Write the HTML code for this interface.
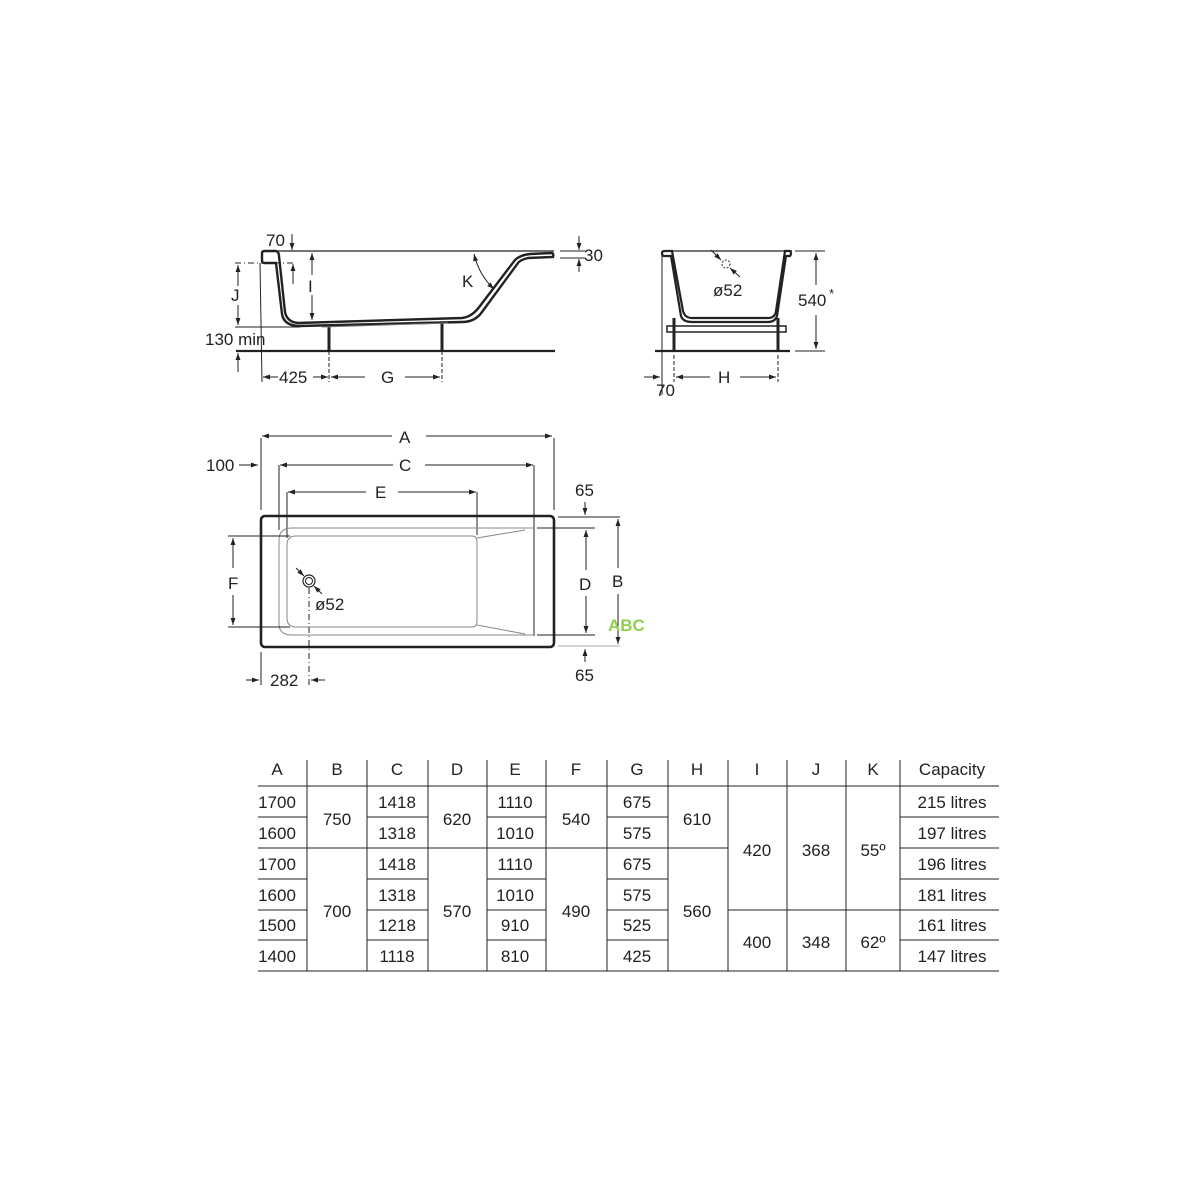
<!DOCTYPE html>
<html><head><meta charset="utf-8"><style>
body{margin:0;background:#fff}
svg{display:block}
text{font-family:"Liberation Sans",Arial,sans-serif;fill:#222}
</style></head><body>
<svg width="1200" height="1200" viewBox="0 0 1200 1200" xmlns="http://www.w3.org/2000/svg">
<defs>
<marker id="ar" viewBox="0 0 10 10" refX="10" refY="5" markerWidth="9" markerHeight="7" orient="auto-start-reverse"><path d="M0,1.5 L10,5 L0,8.5 Z" fill="#222"/></marker>
</defs>
<g stroke="#222" fill="none">
<!-- SIDE VIEW -->
<line x1="262" y1="251" x2="554" y2="251" stroke-width="1.3"/>
<path d="M262,253 Q262,251 265,251 L276,251 Q279,252 279,256 L285,312 Q287,322 298,323 L462,318 Q472,317 480,306 L515,260 Q520,255 530,254 L552,253 Q554,254 553,257 L528,258 Q520,260 518,263 L482,312 Q475,322 462,322 L300,326 Q284,326 282,314 L276,263 L264,263 Q262,263 262,260 Z" stroke-width="2.4" fill="#fff"/>
<line x1="236" y1="351" x2="555" y2="351" stroke-width="2.2"/>
<line x1="329" y1="326" x2="329" y2="351" stroke-width="3"/>
<line x1="442" y1="322" x2="442" y2="351" stroke-width="3"/>
<line x1="322" y1="327" x2="448" y2="323" stroke-width="1" stroke="#777"/>
<line x1="260" y1="263" x2="262" y2="382" stroke-width="1"/>
<line x1="235" y1="263" x2="295" y2="263" stroke-width="1" stroke-dasharray="6,3,1,3"/>
<line x1="235" y1="327" x2="300" y2="327" stroke-width="1"/>
<line x1="238" y1="286" x2="238" y2="265" marker-end="url(#ar)"/>
<line x1="238" y1="305" x2="238" y2="325" marker-end="url(#ar)"/>
<line x1="238" y1="372" x2="238" y2="353" marker-end="url(#ar)"/>
<line x1="293" y1="284" x2="293" y2="264" marker-end="url(#ar)"/>
<line x1="292" y1="234" x2="292" y2="250" marker-end="url(#ar)"/>
<line x1="312" y1="275" x2="312" y2="253" marker-end="url(#ar)"/>
<line x1="312" y1="295" x2="312" y2="320" marker-end="url(#ar)"/>
<line x1="579" y1="236" x2="579" y2="250" marker-end="url(#ar)"/>
<line x1="579" y1="272" x2="579" y2="259" marker-end="url(#ar)"/>
<line x1="560" y1="251" x2="585" y2="251" stroke-width="1"/>
<line x1="560" y1="258" x2="585" y2="258" stroke-width="1"/>
<path d="M474,254 Q479,275 494,289" marker-start="url(#ar)" marker-end="url(#ar)"/>
<line x1="329" y1="351" x2="329" y2="382" stroke-dasharray="4,2"/>
<line x1="442" y1="351" x2="442" y2="382" stroke-dasharray="4,2"/>
<line x1="278" y1="377" x2="263" y2="377" marker-end="url(#ar)"/>
<line x1="313" y1="377" x2="328" y2="377" marker-end="url(#ar)"/>
<line x1="365" y1="377" x2="331" y2="377" marker-end="url(#ar)"/>
<line x1="405" y1="377" x2="440" y2="377" marker-end="url(#ar)"/>

<!-- END VIEW -->
<line x1="662" y1="251" x2="792" y2="251" stroke-width="1.3"/>
<path d="M662,253 Q662,251 665,251 L672,251 L683,311 Q685,318 692,318 L768,318 Q775,318 776,311 L785,251 L790,251 Q792,253 790,256 L786,256 L777,316 Q775,322 768,322 L692,322 Q683,322 681,316 L671,256 L664,256 Q662,256 662,253 Z" stroke-width="2.2" fill="#fff"/>
<rect x="667" y="326" width="119" height="6" stroke-width="1.5" fill="#fff"/>
<line x1="674" y1="318" x2="674" y2="351" stroke-width="3"/>
<line x1="778" y1="318" x2="778" y2="351" stroke-width="3"/>
<line x1="655" y1="351" x2="790" y2="351" stroke-width="2.2"/>
<line x1="662" y1="256" x2="662" y2="395" stroke-width="1"/>
<line x1="795" y1="251" x2="825" y2="251" stroke-width="1"/>
<line x1="795" y1="351" x2="825" y2="351" stroke-width="1"/>
<line x1="816" y1="285" x2="816" y2="253" marker-end="url(#ar)"/>
<line x1="816" y1="315" x2="816" y2="349" marker-end="url(#ar)"/>
<line x1="674" y1="355" x2="674" y2="382" stroke-dasharray="4,2"/>
<line x1="778" y1="355" x2="778" y2="382" stroke-dasharray="4,2"/>
<line x1="710" y1="377" x2="676" y2="377" marker-end="url(#ar)"/>
<line x1="740" y1="377" x2="776" y2="377" marker-end="url(#ar)"/>
<line x1="644" y1="377" x2="660" y2="377" marker-end="url(#ar)"/>
<circle cx="726" cy="264" r="4" stroke-width="1" stroke-dasharray="2,1.5"/>
<line x1="711" y1="250" x2="721" y2="260" marker-end="url(#ar)"/>
<line x1="740" y1="277" x2="730" y2="268" marker-end="url(#ar)"/>

<!-- PLAN VIEW -->
<line x1="262" y1="436" x2="552" y2="436" marker-start="url(#ar)" marker-end="url(#ar)" stroke-dasharray="130,34,300"/>
<line x1="261" y1="438" x2="261" y2="510" stroke-width="1"/>
<line x1="554" y1="438" x2="554" y2="510" stroke-width="1"/>
<line x1="280" y1="465" x2="533" y2="465" marker-start="url(#ar)" marker-end="url(#ar)" stroke-dasharray="113,32,300"/>
<line x1="279" y1="465" x2="279" y2="530" stroke-width="1"/>
<line x1="534" y1="465" x2="534" y2="636" stroke-width="1"/>
<line x1="239" y1="465" x2="258" y2="465" marker-end="url(#ar)"/>
<line x1="288" y1="492" x2="476" y2="492" marker-start="url(#ar)" marker-end="url(#ar)" stroke-dasharray="78,32,300"/>
<line x1="287" y1="492" x2="287" y2="538" stroke-width="1"/>
<line x1="477" y1="492" x2="477" y2="535" stroke-width="1"/>
<rect x="261" y="516" width="293" height="131" rx="4" stroke-width="2.6" fill="none"/>
<path d="M279,540 Q279,528 292,528 L534,528 M279,540 L279,624 Q279,635 292,635 L534,635" stroke="#888" stroke-width="1"/>
<path d="M296,536 L472,536 Q477,536 477,542 L477,621 Q477,627 472,627 L296,627 Q287,627 287,618 L287,545 Q287,536 296,536 Z" stroke="#888" stroke-width="1"/>
<path d="M477,538 L525,530 M477,625 L525,634" stroke="#888" stroke-width="1"/>
<line x1="228" y1="536" x2="290" y2="536" stroke-width="1"/>
<line x1="228" y1="627" x2="290" y2="627" stroke-width="1"/>
<line x1="233" y1="568" x2="233" y2="538" marker-end="url(#ar)"/>
<line x1="233" y1="595" x2="233" y2="625" marker-end="url(#ar)"/>
<line x1="537" y1="528" x2="595" y2="528" stroke-width="1"/>
<line x1="537" y1="635" x2="595" y2="635" stroke-width="1"/>
<line x1="558" y1="517" x2="620" y2="517" stroke-width="1"/>
<line x1="558" y1="646" x2="620" y2="646" stroke="#aaa" stroke-width="1"/>
<line x1="586" y1="570" x2="586" y2="530" marker-end="url(#ar)"/>
<line x1="586" y1="596" x2="586" y2="633" marker-end="url(#ar)"/>
<line x1="618" y1="568" x2="618" y2="519" marker-end="url(#ar)"/>
<line x1="618" y1="594" x2="618" y2="644" marker-end="url(#ar)"/>
<line x1="585" y1="502" x2="585" y2="515" marker-end="url(#ar)"/>
<line x1="585" y1="662" x2="585" y2="649" marker-end="url(#ar)"/>
<circle cx="309" cy="581" r="6" stroke-width="1.2"/>
<circle cx="309" cy="581" r="3.5" stroke-width="1"/>
<line x1="296" y1="568" x2="304" y2="576" marker-end="url(#ar)"/>
<line x1="322" y1="594" x2="314" y2="586" marker-end="url(#ar)"/>
<line x1="309" y1="588" x2="309" y2="685" stroke-width="1" stroke-dasharray="6,3,1,3"/>
<line x1="261" y1="652" x2="261" y2="685" stroke-width="1"/>
<line x1="246" y1="680" x2="259" y2="680" marker-end="url(#ar)"/>
<line x1="325" y1="680" x2="311" y2="680" marker-end="url(#ar)"/>
</g>
<g font-size="17">
<text x="266" y="246">70</text>
<text x="584" y="261">30</text>
<text x="231" y="301">J</text>
<text x="308" y="292">I</text>
<text x="462" y="287">K</text>
<text x="205" y="345">130 min</text>
<text x="279" y="383">425</text>
<text x="381" y="383">G</text>
<text x="713" y="296">ø52</text>
<text x="798" y="306">540</text><text x="829" y="298" font-size="13">*</text>
<text x="656" y="396">70</text>
<text x="718" y="383">H</text>
<text x="399" y="443">A</text>
<text x="206" y="471">100</text>
<text x="399" y="471">C</text>
<text x="375" y="498">E</text>
<text x="575" y="496">65</text>
<text x="228" y="589">F</text>
<text x="579" y="590">D</text>
<text x="612" y="587">B</text>
<text x="315" y="610">ø52</text>
<text x="575" y="681">65</text>
<text x="270" y="686">282</text>
<text x="608" y="631" font-weight="bold" style="fill:#8fd14a">ABC</text>
</g>
<!-- TABLE -->
<g stroke="#222" stroke-width="1">
<line x1="307" y1="760" x2="307" y2="971"/><line x1="367" y1="760" x2="367" y2="971"/>
<line x1="428" y1="760" x2="428" y2="971"/><line x1="487" y1="760" x2="487" y2="971"/>
<line x1="546" y1="760" x2="546" y2="971"/><line x1="607" y1="760" x2="607" y2="971"/>
<line x1="668" y1="760" x2="668" y2="971"/><line x1="728" y1="760" x2="728" y2="971"/>
<line x1="787" y1="760" x2="787" y2="971"/><line x1="846" y1="760" x2="846" y2="971"/>
<line x1="900" y1="760" x2="900" y2="971"/>
<line x1="258" y1="786" x2="999" y2="786"/>
<line x1="258" y1="971" x2="999" y2="971"/>
<line x1="258" y1="848" x2="728" y2="848"/>
<line x1="900" y1="848" x2="999" y2="848"/>
<line x1="728" y1="910" x2="900" y2="910"/>
<path d="M258,817H307M367,817H428M487,817H546M607,817H668M900,817H999
M258,879H307M367,879H428M487,879H546M607,879H668M900,879H999
M258,910H307M367,910H428M487,910H546M607,910H668M900,910H999
M258,940H307M367,940H428M487,940H546M607,940H668M900,940H999" fill="none"/>
</g>
<g font-size="17" text-anchor="middle">
<text x="277" y="775">A</text><text x="337" y="775">B</text><text x="397" y="775">C</text><text x="457" y="775">D</text><text x="515" y="775">E</text><text x="576" y="775">F</text><text x="637" y="775">G</text><text x="697" y="775">H</text><text x="757" y="775">I</text><text x="816" y="775">J</text><text x="873" y="775">K</text><text x="952" y="775">Capacity</text>
<text x="277" y="808">1700</text><text x="277" y="839">1600</text><text x="277" y="870">1700</text><text x="277" y="901">1600</text><text x="277" y="931">1500</text><text x="277" y="962">1400</text>
<text x="337" y="825">750</text><text x="337" y="917">700</text>
<text x="397" y="808">1418</text><text x="397" y="839">1318</text><text x="397" y="870">1418</text><text x="397" y="901">1318</text><text x="397" y="931">1218</text><text x="397" y="962">1118</text>
<text x="457" y="825">620</text><text x="457" y="917">570</text>
<text x="515" y="808">1110</text><text x="515" y="839">1010</text><text x="515" y="870">1110</text><text x="515" y="901">1010</text><text x="515" y="931">910</text><text x="515" y="962">810</text>
<text x="576" y="825">540</text><text x="576" y="917">490</text>
<text x="637" y="808">675</text><text x="637" y="839">575</text><text x="637" y="870">675</text><text x="637" y="901">575</text><text x="637" y="931">525</text><text x="637" y="962">425</text>
<text x="697" y="825">610</text><text x="697" y="917">560</text>
<text x="757" y="856">420</text><text x="757" y="948">400</text>
<text x="816" y="856">368</text><text x="816" y="948">348</text>
<text x="873" y="856">55º</text><text x="873" y="948">62º</text>
<text x="952" y="808">215 litres</text><text x="952" y="839">197 litres</text><text x="952" y="870">196 litres</text><text x="952" y="901">181 litres</text><text x="952" y="931">161 litres</text><text x="952" y="962">147 litres</text>
</g>
</svg>
</body></html>
